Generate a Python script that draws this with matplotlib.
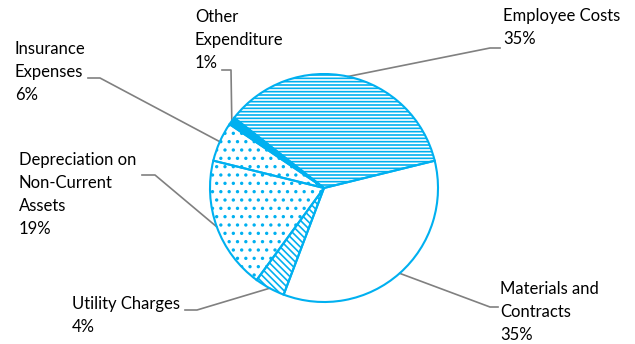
import numpy as np
import matplotlib
matplotlib.use("Agg")
import matplotlib.pyplot as plt

# данные (по часовой стрелке, начиная с Employee Costs)
categories = ["Employee Costs", "Materials and\nContracts", "Utility Charges",
              "Depreciation on\nNon-Current\nAssets", "Insurance\nExpenses",
              "Other\nExpenditure"]
values = [35.6, 34.6, 4.3, 18.8, 5.6, 1.1]
pct_labels = ["35%", "35%", "4%", "19%", "6%", "1%"]

hatches = ["-----", None, "\\\\\\\\\\", "..", "..", None]
fills = ["none", "none", "none", "none", "none", "#00B0F0"]

# положение подписей (пиксели картинки: левый край, верх текста) и конец выноски
label_pos = [(503, 8), (500, 281), (72, 296), (19, 152), (15, 41), (195, 9)]
elbow = [(490, 48), (490, 307), (197, 310), (155, 175), (100, 78), (231, 70)]
tail = [(500, 48), (498, 307), (185, 310), (142, 175), (88, 78), (222, 70)]

W, H = 635, 344
blue = "#00B0F0"
plt.rcParams["hatch.color"] = blue
plt.rcParams["hatch.linewidth"] = 1.2

fig = plt.figure(figsize=(W / 100, H / 100), dpi=100)
ax = fig.add_axes([0, 0, 1, 1])

cx, cy, r = 324, H - 188, 114
wedges, _ = ax.pie(values, center=(cx, cy), radius=r, startangle=142,
                   counterclock=False, frame=True,
                   wedgeprops=dict(edgecolor=blue, linewidth=1.5))
ax.set_xlim(0, W)
ax.set_ylim(0, H)
ax.set_aspect("equal")
ax.axis("off")

for w, h, fc in zip(wedges, hatches, fills):
    w.set_facecolor(fc)
    if h:
        w.set_hatch(h)

for i, w in enumerate(wedges):
    ang = np.deg2rad((w.theta1 + w.theta2) / 2)
    px = cx + r * np.cos(ang)
    py = cy + r * np.sin(ang)
    ex, ey = elbow[i]
    tx, ty = tail[i]
    ax.plot([px, ex, tx], [py, H - ey, H - ty], color="#808080", lw=1.2,
            zorder=0)
    lx, ly = label_pos[i]
    ax.text(lx, H - ly, categories[i] + "\n" + pct_labels[i], ha="left",
            va="top", fontsize=12, family="Lato", color="black",
            linespacing=1.55)

fig.savefig("out.png", dpi=100)
